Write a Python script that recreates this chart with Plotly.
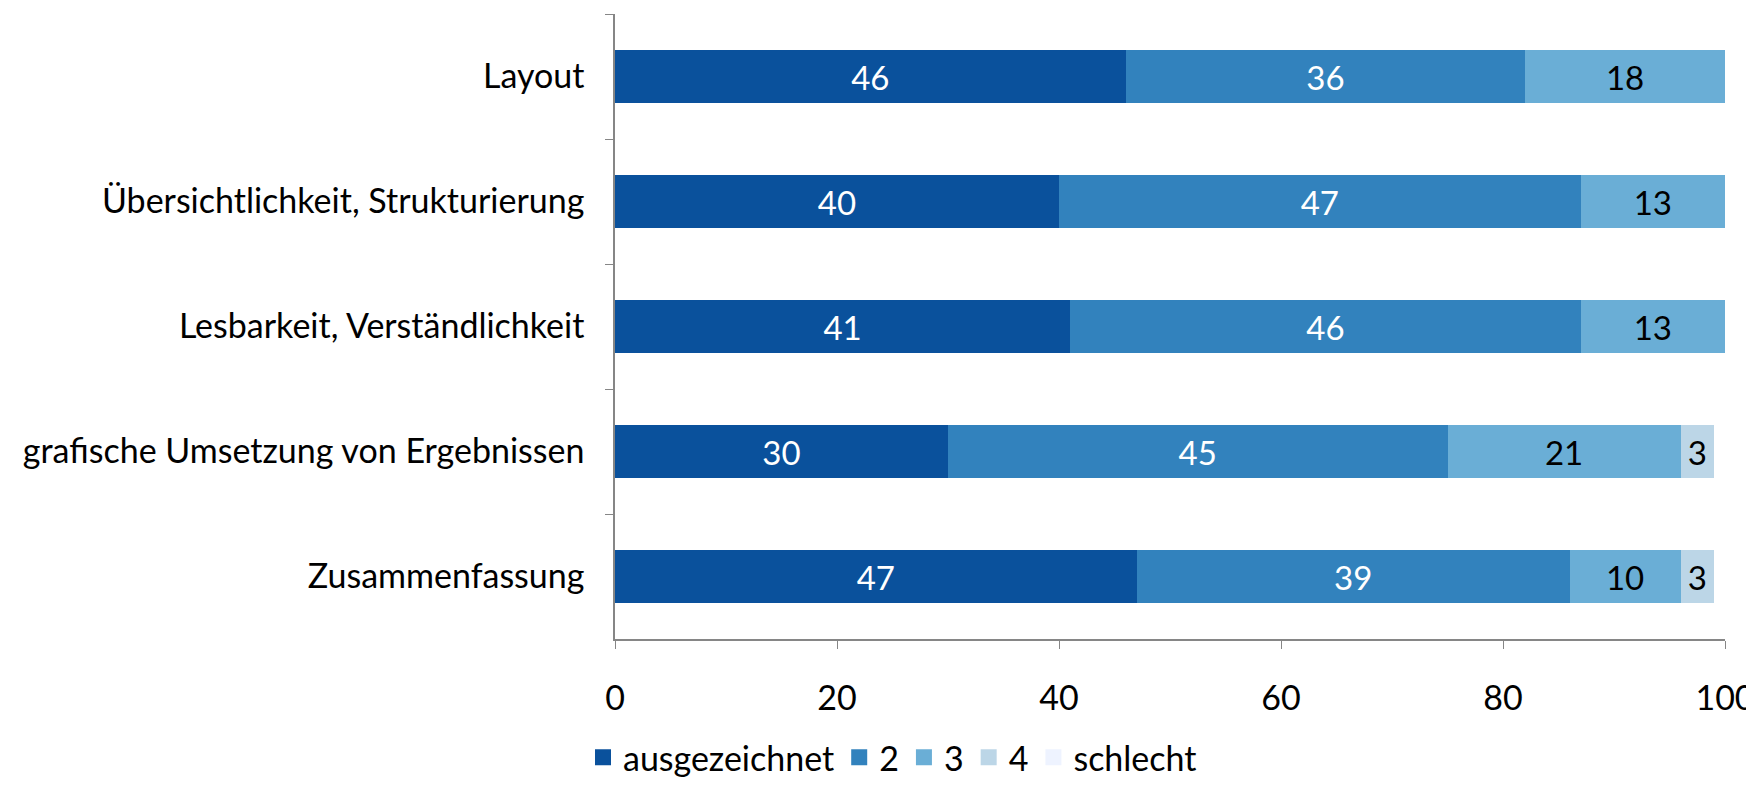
import plotly.graph_objs as go

categories = ['Layout', 'Übersichtlichkeit, Strukturierung', 'Lesbarkeit, Verständlichkeit',
              'grafische Umsetzung von Ergebnissen', 'Zusammenfassung']
grade_names = ['ausgezeichnet', '2', '3', '4', 'schlecht']
ausgezeichnet = [46, 40, 41, 30, 47]
note_2 = [36, 47, 46, 45, 39]
note_3 = [18, 13, 13, 21, 10]
note_4 = [None, None, None, 3, 3]
schlecht = [None, None, None, None, None]
x_ticks = [0, 20, 40, 60, 80, 100]

colors = ['#0a519c', '#3282bd', '#6aaed6', '#bcd6e7', '#eef3ff']
text_colors = ['white', 'white', 'black', 'black', 'black']
FONT = 'Lato'
SIZE = 34

fig = go.Figure()
for name, values, color, tcol in zip(grade_names, [ausgezeichnet, note_2, note_3, note_4, schlecht],
                                     colors, text_colors):
    fig.add_trace(go.Bar(
        y=categories, x=values, name=name, orientation='h',
        marker=dict(color=color, line_width=0), showlegend=False,
        text=values, texttemplate='%{x}', textposition='inside',
        insidetextanchor='middle', constraintext='none',
        textfont=dict(color=tcol, size=33, family=FONT),
    ))
    # legend entry with a larger square swatch
    fig.add_trace(go.Scatter(
        x=[None], y=[None], mode='markers', name=name,
        marker=dict(symbol='square', size=22, color=color),
    ))

fig.update_layout(
    barmode='stack',
    bargap=0.58,
    width=1754, height=785,
    margin=dict(l=607, r=37, t=6, b=127),
    plot_bgcolor='white', paper_bgcolor='white',
    font=dict(family=FONT, size=SIZE, color='black'),
    legend=dict(orientation='h', x=0.25, xanchor='center', y=-0.19, yanchor='middle',
                font=dict(size=SIZE, family=FONT), traceorder='normal',
                itemwidth=30, tracegroupgap=0, itemsizing='trace'),
)
fig.update_yaxes(
    autorange='reversed', type='category', tickson='boundaries',
    ticks='outside', ticklen=8, tickcolor='#868686',
    showline=True, linecolor='#868686', linewidth=1.5,
    showgrid=False, ticklabelstandoff=22, tickfont=dict(size=SIZE),
)
fig.update_xaxes(
    range=[0, 100], tickvals=x_ticks, ticks='outside', ticklen=8, tickcolor='#868686',
    showline=True, linecolor='#868686', linewidth=1.5, showgrid=False, zeroline=False,
    ticklabelstandoff=20, tickfont=dict(size=SIZE),
)

fig.write_html('out.html')
